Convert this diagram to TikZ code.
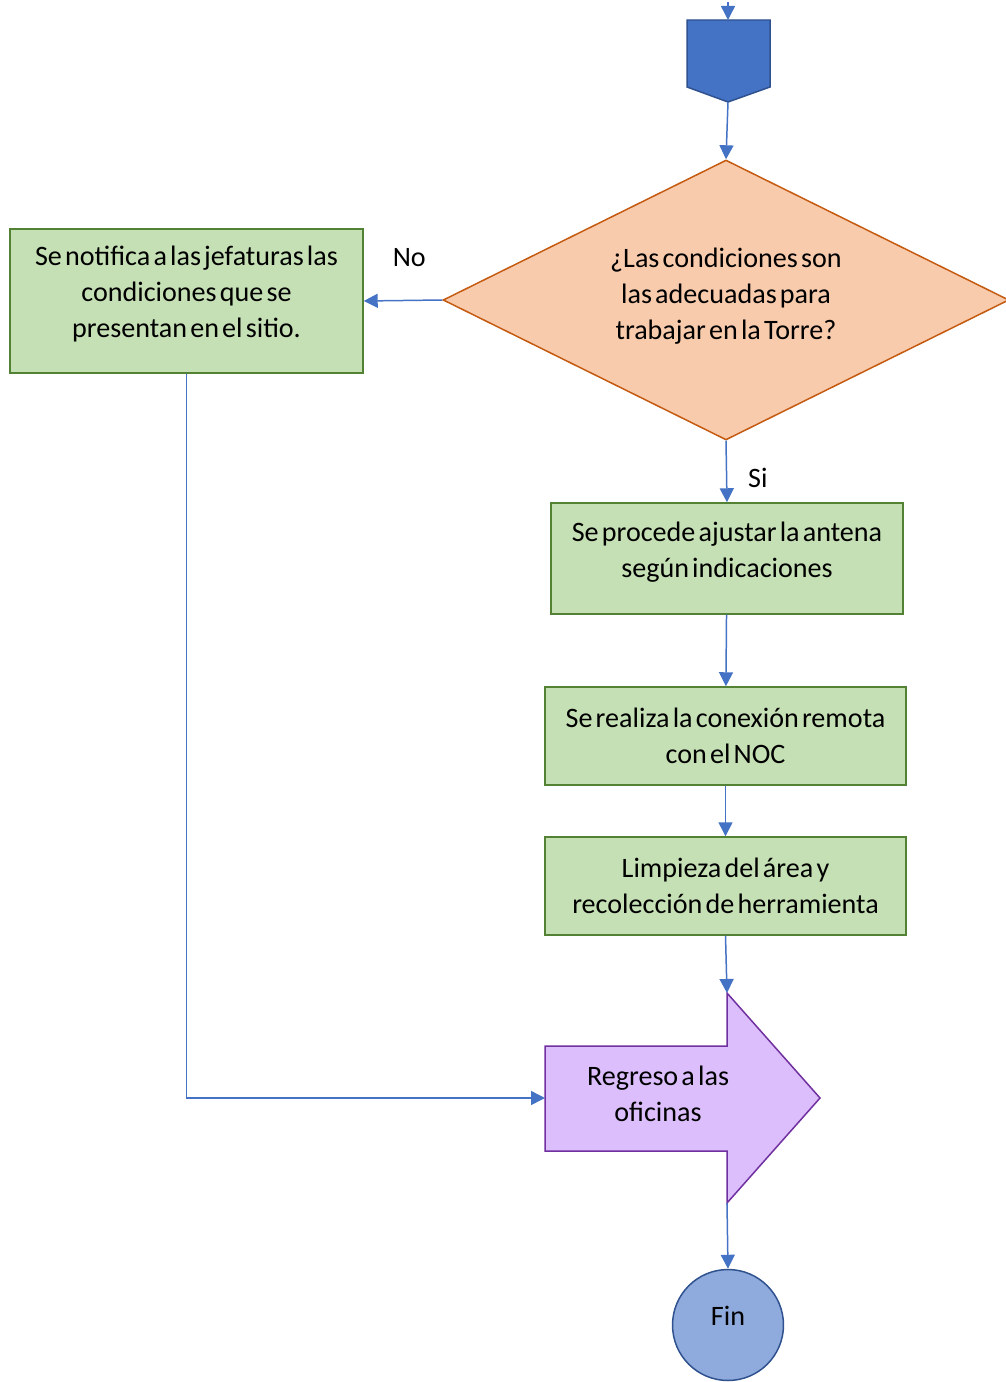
\documentclass[tikz,border=0pt]{standalone}
\usepackage{fontspec}
\setmainfont{Carlito}[WordSpace=0.5]
\usepackage{tikz}
\usetikzlibrary{arrows.meta,shapes.geometric,positioning}
\definecolor{flowblue}{HTML}{4472C4}
\definecolor{darkblue}{HTML}{2F528F}
\definecolor{peach}{HTML}{F8CBAD}
\definecolor{rust}{HTML}{C55A11}
\definecolor{palegreen}{HTML}{C5E0B4}
\definecolor{leafgreen}{HTML}{548235}
\definecolor{lilac}{HTML}{DBBEFB}
\definecolor{plum}{HTML}{7030A0}
\definecolor{skyblue}{HTML}{8FAADC}
\tikzset{
    process/.style={
    rectangle,draw=leafgreen,fill=palegreen,line width=0.85pt,inner sep=0pt,align=center
    },
    decision/.style={
    diamond,aspect=2,draw=rust,fill=peach,line width=0.85pt,inner sep=0pt,align=center,
    minimum width=11.32cm,minimum height=5.6cm
    },
    offpage/.style={
    draw=darkblue,fill=flowblue,line width=0.85pt
    },
    arrowbox/.style={
    draw=plum,fill=lilac,line width=0.85pt
    },
    terminal/.style={
    circle,draw=darkblue,fill=skyblue,line width=0.85pt,minimum size=2.22cm,inner sep=0pt
    },
    flow/.style={
    draw=flowblue,line width=0.85pt,-{Triangle[length=0.28cm,width=0.28cm]}
    },
}

\begin{document}
\begin{tikzpicture}[x=0.02cm, y=-0.02cm, font=\fontsize{16pt}{20.5pt}\selectfont]
   \useasboundingbox (0,0) rectangle (1005,1382);

   % connector from the previous page
   \draw[offpage] (687,20) -- (770,20) -- (770,87) -- (728,102) -- (687,87) -- cycle;
   \coordinate (pagein) at (728,2);
   \coordinate (pagetop) at (728,20);
   \coordinate (pagetip) at (728,102);

   \node[decision,text depth=0.24cm] (cond) at (726,300) {¿Las condiciones son\\las adecuadas para\\trabajar en la Torre?};
   \node[process,minimum width=7.06cm,minimum height=2.88cm,text depth=0.36cm] (notif) at (186.5,301)
     {Se notifica a las jefaturas las\\condiciones que se\\presentan en el sitio.};
   \node[process,minimum width=7.04cm,minimum height=2.22cm,text depth=0.36cm] (antena) at (727,558.5)
     {Se procede ajustar la antena\\según indicaciones};
   \node[process,minimum width=7.22cm,minimum height=1.96cm] (noc) at (725.5,736)
     {Se realiza la conexión remota\\con el NOC};
   \node[process,minimum width=7.22cm,minimum height=1.96cm] (limpieza) at (725.5,886)
     {Limpieza del área y\\recolección de herramienta};

   % return arrow shape
   \draw[arrowbox] (545,1046) -- (727,1046) -- (727,993) -- (820,1098)
     -- (727,1203) -- (727,1151) -- (545,1151) -- cycle;
   \node (regreso) at (658,1094) [align=center] {Regreso a las\\oficinas};
   \coordinate (regtop) at (727,993);
   \coordinate (regleft) at (545,1098);
   \coordinate (regbot) at (727,1203);

   \node[terminal,text depth=0.36cm] (fin) at (728,1325) {Fin};

   \draw[flow] (pagein) -- (pagetop);
   \draw[flow] (pagetip) -- (cond.north);
   \draw[flow] (cond.west) -- (notif.east) node[pos=0.42,above=0.55cm] (no) {No};
   \draw[flow] (cond.south) -- (antena.north) node[pos=0.6,right=0.3cm] (si) {Si};
   \draw[flow] (antena) -- (noc);
   \draw[flow] (noc) -- (limpieza);
   \draw[flow] (limpieza.south) -- (regtop);
   \draw[flow] (notif.south) |- (regleft);
   \draw[flow] (regbot) -- (fin.north);
\end{tikzpicture}
\end{document}
